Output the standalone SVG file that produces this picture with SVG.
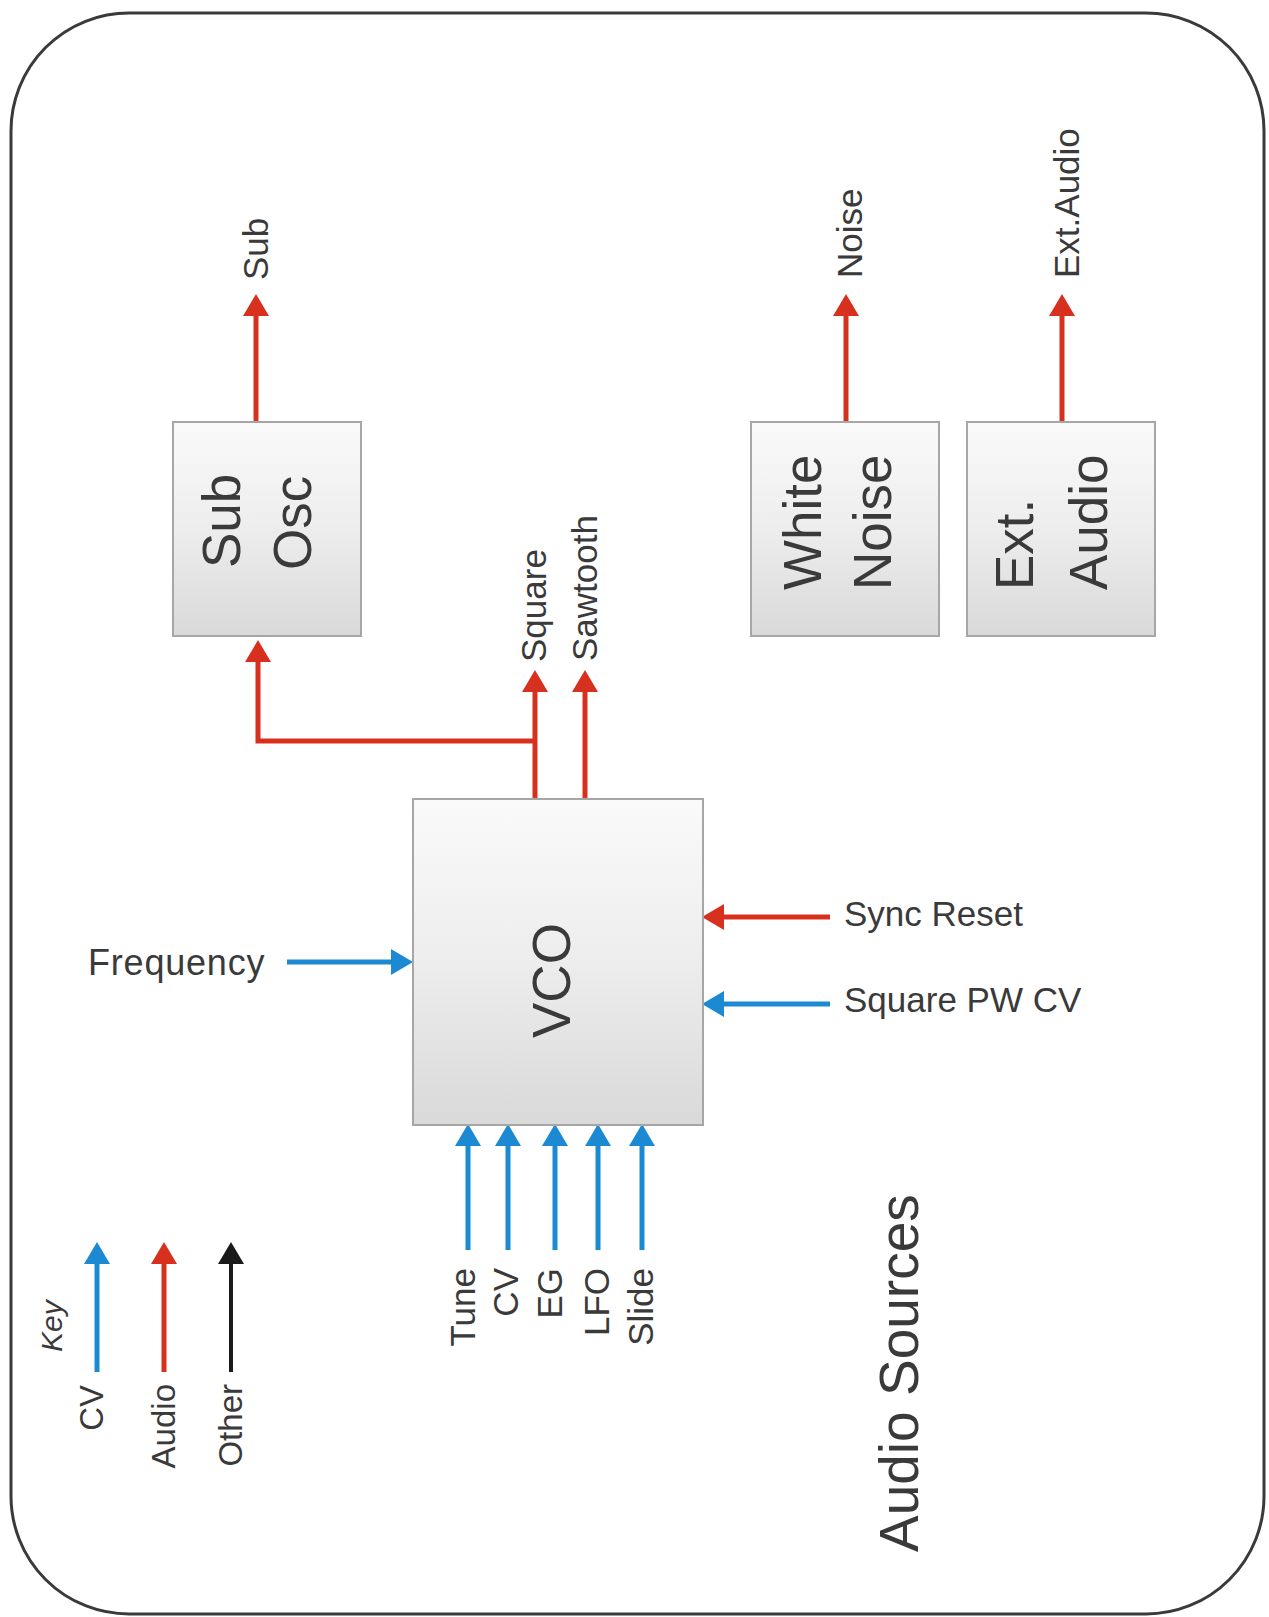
<svg xmlns="http://www.w3.org/2000/svg" width="1269" height="1617" viewBox="0 0 1269 1617">
<style>
  .frame{fill:#ffffff;stroke:#3a3a3a;stroke-width:3}
  .box{fill:url(#boxGrad);stroke:#a6a6a6;stroke-width:2}
  .t{font-family:"Liberation Sans",Arial,sans-serif;fill:#3a3a3a}
  .lbl{font-size:35px}
  .big{font-size:53px}
  .key{font-size:33px}
  .title{font-size:55px}
  .audio{fill:none;stroke:#d7301f;stroke-width:5;marker-end:url(#headRed)}
  .cv{fill:none;stroke:#1b8ad3;stroke-width:5;marker-end:url(#headBlue)}
  .other{fill:none;stroke:#1a1a1a;stroke-width:4;marker-end:url(#headBlack)}
</style>
<defs>
  <linearGradient id="boxGrad" x1="0" y1="0" x2="0" y2="1">
    <stop offset="0" stop-color="#fafafa"/>
    <stop offset="0.5" stop-color="#ededed"/>
    <stop offset="1" stop-color="#d9d9d9"/>
  </linearGradient>
  <marker id="headRed" markerUnits="userSpaceOnUse" viewBox="0 0 22 26" refX="0" refY="13" markerWidth="22" markerHeight="26" orient="auto">
    <path d="M0,0 L22,13 L0,26 Z" fill="#d7301f"/>
  </marker>
  <marker id="headBlue" markerUnits="userSpaceOnUse" viewBox="0 0 22 26" refX="0" refY="13" markerWidth="22" markerHeight="26" orient="auto">
    <path d="M0,0 L22,13 L0,26 Z" fill="#1b8ad3"/>
  </marker>
  <marker id="headBlack" markerUnits="userSpaceOnUse" viewBox="0 0 22 26" refX="0" refY="13" markerWidth="22" markerHeight="26" orient="auto">
    <path d="M0,0 L22,13 L0,26 Z" fill="#1a1a1a"/>
  </marker>
</defs>

<rect class="frame" x="11" y="13" width="1253" height="1601" rx="118" ry="118"/>

<g id="connectors">
  <path class="audio" d="M256,422 V316"/>
  <path class="audio" d="M846,422 V316"/>
  <path class="audio" d="M1062,422 V316"/>
  <path class="audio" d="M535,800 V692"/>
  <path class="audio" d="M585,800 V692"/>
  <path class="audio" d="M535,741 H258 V662"/>
  <path class="audio" d="M830,917 H724"/>
  <path class="cv" d="M287,962 H391"/>
  <path class="cv" d="M830,1004 H724"/>
  <path class="cv" d="M468,1250 V1146"/>
  <path class="cv" d="M508,1250 V1146"/>
  <path class="cv" d="M555,1250 V1146"/>
  <path class="cv" d="M598,1250 V1146"/>
  <path class="cv" d="M642,1250 V1146"/>
</g>

<g id="sub-osc">
  <rect class="box" x="173" y="422" width="188" height="214"/>
  <text class="t big" transform="translate(240,568) rotate(-90)">Sub</text>
  <text class="t big" transform="translate(311,570) rotate(-90)">Osc</text>
</g>

<g id="white-noise">
  <rect class="box" x="751" y="422" width="188" height="214"/>
  <text class="t big" transform="translate(821,590) rotate(-90)">White</text>
  <text class="t big" transform="translate(891,590) rotate(-90)">Noise</text>
</g>

<g id="ext-audio">
  <rect class="box" x="967" y="422" width="188" height="214"/>
  <text class="t big" transform="translate(1033,590) rotate(-90)">Ext.</text>
  <text class="t big" transform="translate(1107,590) rotate(-90)">Audio</text>
</g>

<g id="vco">
  <rect class="box" x="413" y="799" width="290" height="326"/>
  <text class="t big" transform="translate(570,1038) rotate(-90)">VCO</text>
</g>

<g id="labels">
  <text class="t lbl" transform="translate(268,280) rotate(-90)">Sub</text>
  <text class="t lbl" transform="translate(862,278) rotate(-90)">Noise</text>
  <text class="t lbl" transform="translate(1079,278) rotate(-90)">Ext.Audio</text>
  <text class="t lbl" transform="translate(546,662) rotate(-90)">Square</text>
  <text class="t lbl" transform="translate(597,661) rotate(-90)">Sawtooth</text>
  <text class="t lbl" x="88" y="975" style="font-size:36px;letter-spacing:0.8px">Frequency</text>
  <text class="t lbl" x="844" y="926">Sync Reset</text>
  <text class="t lbl" x="844" y="1012">Square PW CV</text>
  <text class="t lbl" text-anchor="end" transform="translate(475,1268) rotate(-90)">Tune</text>
  <text class="t lbl" text-anchor="end" transform="translate(518,1268) rotate(-90)">CV</text>
  <text class="t lbl" text-anchor="end" transform="translate(562,1268) rotate(-90)">EG</text>
  <text class="t lbl" text-anchor="end" transform="translate(609,1268) rotate(-90)">LFO</text>
  <text class="t lbl" text-anchor="end" transform="translate(653,1268) rotate(-90)">Slide</text>
  <text class="t title" transform="translate(918,1552) rotate(-90)">Audio Sources</text>
</g>

<g id="key">
  <text class="t key" font-style="italic" transform="translate(62,1352) rotate(-90)" style="font-size:30px">Key</text>
  <path class="cv" d="M97,1372 V1264"/>
  <path class="audio" d="M164,1372 V1264"/>
  <path class="other" d="M231,1372 V1264"/>
  <text class="t key" text-anchor="end" transform="translate(103,1385) rotate(-90)">CV</text>
  <text class="t key" text-anchor="end" transform="translate(175,1384) rotate(-90)">Audio</text>
  <text class="t key" text-anchor="end" transform="translate(242,1384) rotate(-90)">Other</text>
</g>
</svg>
